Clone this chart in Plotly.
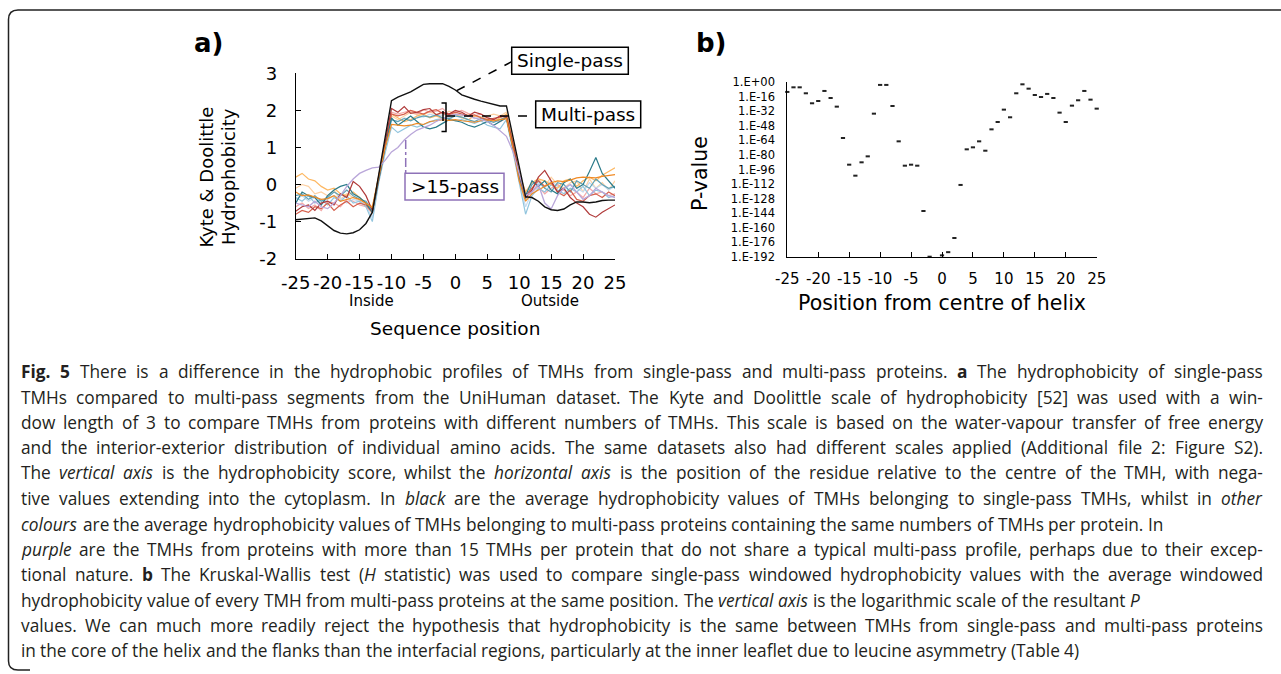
import re
import plotly.graph_objects as go

W, H = 1281, 674

# ---------------- data: panel a ----------------
positions = list(range(-25, 26))

single_pass = [-0.95, -0.93, -0.91, -0.90, -0.98, -1.12, -1.24, -1.31, -1.33, -1.30, -1.22, -1.05, -0.75,
               0.27, 1.27, 2.26,
               2.36, 2.43, 2.50, 2.60, 2.70, 2.72, 2.73, 2.72, 2.65, 2.55, 2.42, 2.35, 2.30, 2.25, 2.20, 2.15, 2.12, 2.12,
               1.30, 0.50, -0.33,
               -0.35, -0.45, -0.60, -0.68, -0.70, -0.66, -0.55, -0.47, -0.47, -0.49, -0.47, -0.43, -0.42, -0.42]

multi_dark_red = [-0.72, -0.6, -0.55, -0.7, -0.5, -0.45, -0.55, -0.25, -0.35, 0.08, -0.05, -0.3, -0.7,
                  0.2, 1.1, 2.05,
                  1.95, 2.1, 1.92, 1.95, 2.02, 2.05, 1.88, 1.95, 1.9, 2.0, 1.95, 1.85, 1.95, 1.9, 1.8, 1.75, 1.85, 1.82,
                  1.1, 0.3, -0.35,
                  -0.15, 0.2, 0.38, 0.1, -0.2, -0.1, -0.35, -0.5, -0.6, -0.8, -0.88, -0.75, -0.65, -0.55]
multi_dark_teal = [-0.5, -0.2, -0.3, -0.35, -0.55, -0.3, -0.15, -0.05, 0.0, -0.25, -0.35, -0.5, -0.75,
                   0.15, 1.0, 1.8,
                   1.6, 1.72, 1.85, 1.7, 1.55, 1.5, 1.55, 1.65, 1.75, 1.72, 1.68, 1.6, 1.55, 1.62, 1.7, 1.6, 1.7, 1.8,
                   1.0, 0.2, -0.3,
                   0.1, -0.05, 0.1, -0.15, -0.25, 0.05, 0.15, -0.1, 0.0, 0.35, 0.73, 0.3, 0.1, -0.1]
multi_orange = [-0.2, -0.3, -0.28, -0.35, -0.4, -0.38, -0.3, -0.45, -0.4, -0.35, -0.4, -0.5, -0.62,
                0.2, 1.0, 1.62,
                1.6, 1.58, 1.6, 1.65, 1.62, 1.7, 1.72, 1.75, 1.73, 1.75, 1.72, 1.7, 1.68, 1.72, 1.74, 1.72, 1.75, 1.78,
                1.0, 0.1, -0.45,
                -0.25, -0.15, -0.05, 0.05, 0.1, 0.08, 0.12, 0.18, 0.2, 0.2, 0.18, 0.22, 0.25, 0.27]
multi_light_orange = [0.2, 0.3, 0.15, 0.1, -0.05, -0.15, -0.1, -0.25, -0.3, -0.2, -0.35, -0.5, -0.6,
                      0.3, 1.1, 1.9,
                      1.8, 1.7, 1.75, 1.85, 1.9, 1.8, 1.85, 1.78, 1.85, 1.9, 1.8, 1.75, 1.85, 1.82, 1.75, 1.7, 1.8, 1.9,
                      1.2, 0.3, -0.2,
                      0.05, 0.15, 0.1, 0.0, -0.1, 0.1, 0.15, -0.05, 0.1, 0.2, 0.1, 0.25, 0.35, 0.45]
multi_peach = [-0.1, 0.0, -0.05, -0.25, -0.2, -0.3, -0.15, -0.4, -0.25, -0.35, -0.45, -0.55, -0.8,
               0.15, 1.05, 1.85,
               1.75, 1.85, 1.95, 1.88, 1.9, 1.95, 1.9, 1.85, 1.98, 1.92, 1.85, 1.9, 1.86, 1.8, 1.85, 1.9, 1.85, 1.95,
               1.15, 0.25, -0.35,
               -0.1, 0.15, -0.05, 0.2, 0.0, -0.1, 0.05, 0.1, -0.2, 0.15, -0.1, 0.05, -0.15, 0.1]
multi_pink = [-0.6, -0.5, -0.65, -0.55, -0.7, -0.45, -0.5, -0.6, -0.4, -0.45, -0.55, -0.6, -0.75,
              0.2, 1.1, 1.95,
              1.9, 1.95, 2.0, 1.9, 2.02, 1.95, 1.98, 2.05, 1.9, 1.95, 2.0, 1.92, 1.85, 1.9, 1.8, 1.75, 1.7, 1.8,
              1.1, 0.2, -0.35,
              -0.2, -0.05, -0.25, -0.1, 0.0, -0.15, -0.3, -0.2, -0.35, -0.1, -0.25, -0.2, -0.3, -0.25]
multi_light_blue = [-0.35, -0.45, -0.3, -0.5, -0.4, -0.55, -0.35, -0.45, -0.3, -0.5, -0.45, -0.6, -1.0,
                    0.05, 0.85, 1.55,
                    1.4, 1.5, 1.6, 1.55, 1.62, 1.7, 1.75, 1.78, 1.8, 1.72, 1.75, 1.7, 1.65, 1.72, 1.6, 1.55, 1.5, 1.75,
                    0.9, 0.0, -0.8,
                    -0.3, -0.1, -0.2, 0.0, -0.15, -0.25, -0.1, -0.2, -0.05, -0.3, -0.15, -0.2, -0.35, -0.3]
multi_pale_blue = [-0.4, -0.3, -0.45, -0.35, -0.5, -0.4, -0.3, -0.35, -0.5, -0.4, -0.45, -0.55, -0.9,
                   0.1, 0.95, 1.75,
                   1.7, 1.8, 1.75, 1.85, 1.82, 1.9, 1.85, 1.88, 1.9, 1.85, 1.8, 1.85, 1.78, 1.82, 1.8, 1.75, 1.7, 1.8,
                   1.0, 0.1, -0.6,
                   -0.2, 0.05, -0.1, 0.1, -0.05, -0.15, 0.0, -0.1, -0.2, 0.05, -0.1, 0.0, -0.15, -0.05]
multi_mid_teal = [-0.3, -0.25, -0.4, -0.3, -0.45, -0.35, -0.2, -0.3, -0.15, -0.3, -0.4, -0.45, -0.7,
                  0.2, 1.05, 1.75,
                  1.7, 1.78, 1.72, 1.8, 1.85, 1.82, 1.88, 1.8, 1.78, 1.85, 1.82, 1.75, 1.7, 1.78, 1.72, 1.68, 1.75, 1.82,
                  1.05, 0.15, -0.4,
                  0.0, 0.1, -0.1, -0.2, 0.05, 0.0, -0.2, 0.1, 0.0, -0.1, 0.15, 0.0, -0.1, -0.05]
multi_red = [-0.8, -0.7, -0.75, -0.6, -0.65, -0.5, -0.7, -0.55, -0.45, -0.6, -0.5, -0.55, -0.75,
             0.15, 1.05, 1.9,
             1.85, 1.9, 2.0, 1.95, 1.9, 1.98, 2.02, 1.92, 1.88, 1.95, 1.9, 1.85, 1.88, 1.8, 1.75, 1.78, 1.82, 1.85,
             1.1, 0.2, -0.3,
             -0.1, 0.1, -0.05, 0.05, -0.2, -0.3, -0.15, -0.4, -0.45, -0.3, -0.25, -0.35, -0.2, -0.3]
over15_pass = [-0.5, -0.55, -0.6, -0.45, -0.6, -0.65, -0.5, -0.3, -0.05, 0.15, 0.3, 0.38, 0.45,
               0.47, 0.65, 0.88,
               1.0, 1.2, 1.35, 1.47, 1.54, 1.6, 1.7, 1.78, 1.85, 1.9, 1.88, 1.85, 1.8, 1.75, 1.7, 1.6, 1.45, 1.3,
               0.9, 0.3, -0.3,
               -0.2, 0.0, -0.5, -0.66, -0.3, -0.1, 0.0, -0.2, -0.4, -0.3, -0.1, -0.2, -0.3, -0.35]

multi_series = [
    ("#fdd0a2", multi_peach),
    ("#c6dbef", multi_pale_blue),
    ("#f4a9a8", multi_pink),
    ("#92c5de", multi_light_blue),
    ("#fdb863", multi_light_orange),
    ("#5fa2b5", multi_mid_teal),
    ("#d6604d", multi_red),
    ("#2b7b8a", multi_dark_teal),
    ("#b03a3a", multi_dark_red),
    ("#f08a24", multi_orange),
]

# ---------------- data: panel b ----------------
p_values = [2.5e-11, 3e-6, 3e-6, 8e-13, 8e-24, 2.5e-21, 3e-10, 5e-18, 1.6e-27, 5e-62,
            2e-91, 1.6e-103, 8e-89, 3e-82, 3e-35, 1.3e-3, 1.3e-3, 8e-27, 1e-65, 1.6e-92,
            2e-91, 1.6e-92, 2e-142, 1e-192, 1e-193, 3e-191, 1e-187, 4e-172, 1e-113, 1.6e-74,
            2.5e-72, 1e-65, 5e-76, 1.6e-52, 2e-44, 8e-31, 3e-39, 8e-13, 6e-3, 1e-7,
            1e-14, 6e-17, 1.6e-13, 5e-18, 4e-34, 2e-44, 2e-26, 1.6e-20, 3e-10, 8e-20, 1e-29]
p_tick_vals = [1e0, 1e-16, 1e-32, 1e-48, 1e-64, 1e-80, 1e-96, 1e-112, 1e-128, 1e-144, 1e-160, 1e-176, 1e-192]
p_tick_text = ["1.E+00", "1.E-16", "1.E-32", "1.E-48", "1.E-64", "1.E-80", "1.E-96", "1.E-112",
               "1.E-128", "1.E-144", "1.E-160", "1.E-176", "1.E-192"]
x_ticks = [-25, -20, -15, -10, -5, 0, 5, 10, 15, 20, 25]
x_tick_text = ["-25", "-20", "-15", "-10", "-5", "0", "5", "10", "15", "20", "25"]
y_ticks_a = [-2, -1, 0, 1, 2, 3]
y_tick_text_a = ["-2", "-1", "0", "1", "2", "3"]

# caption lines: (text, justified)
caption_lines = [
    ("<b>Fig. 5</b> There is a difference in the hydrophobic profiles of TMHs from single-pass and multi-pass proteins. <b>a</b> The hydrophobicity of single-pass", True),
    ("TMHs compared to multi-pass segments from the UniHuman dataset. The Kyte and Doolittle scale of hydrophobicity [52] was used with a win-", True),
    ("dow length of 3 to compare TMHs from proteins with different numbers of TMHs. This scale is based on the water-vapour transfer of free energy", True),
    ("and the interior-exterior distribution of individual amino acids. The same datasets also had different scales applied (Additional file 2: Figure S2).", True),
    ("The <i>vertical axis</i> is the hydrophobicity score, whilst the <i>horizontal axis</i> is the position of the residue relative to the centre of the TMH, with nega-", True),
    ("tive values extending into the cytoplasm. In <i>black</i> are the average hydrophobicity values of TMHs belonging to single-pass TMHs, whilst in <i>other</i>", True),
    ("<i>colours</i> are the average hydrophobicity values of TMHs belonging to multi-pass proteins containing the same numbers of TMHs per protein. In", False),
    ("<i>purple</i> are the TMHs from proteins with more than 15 TMHs per protein that do not share a typical multi-pass profile, perhaps due to their excep-", True),
    ("tional nature. <b>b</b> The Kruskal-Wallis test (<i>H</i> statistic) was used to compare single-pass windowed hydrophobicity values with the average windowed", True),
    ("hydrophobicity value of every TMH from multi-pass proteins at the same position. The <i>vertical axis</i> is the logarithmic scale of the resultant <i>P</i>", False),
    ("values. We can much more readily reject the hypothesis that hydrophobicity is the same between TMHs from single-pass and multi-pass proteins", True),
    ("in the core of the helix and the flanks than the interfacial regions, particularly at the inner leaflet due to leucine asymmetry (Table 4)", False),
]

# ---------------- helpers (pixel -> paper) ----------------
def PX(x):
    return x / W


def PY(y):
    return 1 - y / H


FONT = "DejaVu Sans"
CAP_FONT = "Open Sans"
CAP_SIZE = 17.3
CAP_LEFT, CAP_RIGHT = 20, 1262

# approximate Open Sans advance widths (units per em = 2048)
_OS_W = {' ': 532, '!': 565, '"': 821, '&': 1495, "'": 453, '(': 606, ')': 606, ',': 502, '-': 659,
         '.': 545, '/': 752, ':': 545, ';': 545, '[': 684, ']': 684,
         'A': 1296, 'B': 1327, 'C': 1292, 'D': 1493, 'E': 1139, 'F': 1057, 'G': 1491, 'H': 1511, 'I': 571,
         'J': 547, 'K': 1257, 'L': 1063, 'M': 1849, 'N': 1544, 'O': 1595, 'P': 1233, 'Q': 1595, 'R': 1266,
         'S': 1124, 'T': 1133, 'U': 1491, 'V': 1219, 'W': 1896, 'X': 1182, 'Y': 1147, 'Z': 1169,
         'a': 1139, 'b': 1255, 'c': 975, 'd': 1255, 'e': 1149, 'f': 694, 'g': 1122, 'h': 1257, 'i': 518,
         'j': 518, 'k': 1075, 'l': 518, 'm': 1905, 'n': 1257, 'o': 1237, 'p': 1255, 'q': 1255, 'r': 836,
         's': 977, 't': 723, 'u': 1257, 'v': 1026, 'w': 1593, 'x': 1073, 'y': 1028, 'z': 977}


def seg_width(s, bold, italic, size):
    units = sum(_OS_W.get(ch, 1171 if ch.isdigit() else 1100) for ch in s)
    f = 1.0
    if bold:
        f *= 1.07
    if italic:
        f *= 0.96
    return units / 2048 * size * f


def tokenize(line, size):
    """split a line into words; each word -> (markup, width)"""
    words = []
    cur_markup, cur_w, in_word = "", 0.0, False
    bold = italic = False
    for part in re.split(r"(</?[bi]>)", line):
        if part in ("<b>", "</b>", "<i>", "</i>"):
            bold = part == "<b>" if part in ("<b>", "</b>") else bold
            italic = part == "<i>" if part in ("<i>", "</i>") else italic
            continue
        pieces = part.split(" ")
        for k, piece in enumerate(pieces):
            if k > 0 and in_word:
                words.append((cur_markup, cur_w))
                cur_markup, cur_w, in_word = "", 0.0, False
            if piece:
                m = piece
                if italic:
                    m = f"<i>{m}</i>"
                if bold:
                    m = f"<b>{m}</b>"
                cur_markup += m
                cur_w += seg_width(piece, bold, italic, size)
                in_word = True
    if in_word:
        words.append((cur_markup, cur_w))
    return words


fig = go.Figure()

for color, vals in multi_series:
    fig.add_trace(go.Scatter(x=positions, y=vals, mode="lines", line=dict(color=color, width=1.2),
                             xaxis="x", yaxis="y", showlegend=False, hoverinfo="skip"))
fig.add_trace(go.Scatter(x=positions, y=over15_pass, mode="lines", line=dict(color="#b9a6d9", width=1.3),
                         xaxis="x", yaxis="y", showlegend=False, hoverinfo="skip"))
fig.add_trace(go.Scatter(x=positions, y=single_pass, mode="lines", line=dict(color="#111111", width=1.4),
                         xaxis="x", yaxis="y", showlegend=False, hoverinfo="skip"))

fig.add_trace(go.Scatter(x=positions, y=p_values, mode="markers",
                         marker=dict(symbol="line-ew", size=3, color="#222",
                                     line=dict(color="#222", width=2)),
                         cliponaxis=False, xaxis="x2", yaxis="y2", showlegend=False, hoverinfo="skip"))

axis_common = dict(showgrid=False, zeroline=False, showline=True, linecolor="black", linewidth=1,
                   tickcolor="black", tickwidth=1, automargin=False, tickangle=0)

fig.update_layout(
    width=W, height=H, autosize=False,
    margin=dict(l=0, r=0, t=0, b=0, pad=0),
    paper_bgcolor="white", plot_bgcolor="rgba(0,0,0,0)",
    xaxis=dict(domain=[PX(295.7), PX(615)], range=[-25, 25], tickvals=x_ticks, ticktext=x_tick_text,
               ticks="inside", ticklen=5,
               tickfont=dict(family=FONT, size=18, color="black"), ticklabelstandoff=8,
               anchor="y", **axis_common),
    yaxis=dict(domain=[PY(258.7), PY(73.3)], range=[-2, 3], tickvals=y_ticks_a, ticktext=y_tick_text_a,
               ticks="inside", ticklen=5,
               tickfont=dict(family=FONT, size=18, color="black"), ticklabelstandoff=14,
               anchor="x", **axis_common),
    xaxis2=dict(domain=[PX(787.3), PX(1096.7)], range=[-25, 25], tickvals=x_ticks, ticktext=x_tick_text,
                ticks="inside", ticklen=5,
                tickfont=dict(family=FONT, size=15, color="black"), ticklabelstandoff=8,
                anchor="y2", **axis_common),
    yaxis2=dict(domain=[PY(256.7), PY(82.3)], type="log", range=[-192, 0],
                tickvals=p_tick_vals, ticktext=p_tick_text, ticks="",
                tickfont=dict(family=FONT, size=11.5, color="black"), ticklabelstandoff=9,
                anchor="x2", **axis_common),
)

ann = []


def text(x, y, s, size, angle=0, xanchor="center", yanchor="middle", color="black", family=FONT):
    ann.append(dict(x=PX(x), y=PY(y), xref="paper", yref="paper", text=s, showarrow=False,
                    textangle=angle, xanchor=xanchor, yanchor=yanchor, borderpad=0,
                    font=dict(family=family, size=size, color=color)))


text(208, 43, "<b>a)</b>", 26)
text(712, 43, "<b>b)</b>", 26)
text(206.7, 176.7, "Kyte &amp; Doolittle", 18, angle=-90)
text(228.3, 176.7, "Hydrophobicity", 18, angle=-90)
text(371.7, 301, "Inside", 15)
text(550, 301, "Outside", 15)
text(455, 328.3, "Sequence position", 18.5)
text(700.7, 173.3, "P-value", 20.5, angle=-90)
text(941.7, 303.3, "Position from centre of helix", 20.5)

text(570, 61, "Single-pass", 18.5)
text(588.2, 114.3, "Multi-pass", 18.5)
text(454.5, 186.7, "&gt;15-pass", 18.5)

# caption, word by word so justified lines reach the right margin
cap_y = [371, 397, 422, 447, 472, 498, 524, 549, 574, 600, 625, 650]
space_w = _OS_W[' '] / 2048 * CAP_SIZE
for (line, justified), yy in zip(caption_lines, cap_y):
    words = tokenize(line, CAP_SIZE)
    total = sum(w for _, w in words)
    if justified and len(words) > 1:
        gap = (CAP_RIGHT - CAP_LEFT - total) / (len(words) - 1)
    else:
        gap = space_w
    x = CAP_LEFT
    for markup, wd in words:
        text(x, yy, markup, CAP_SIZE, xanchor="left", color="#231f20", family=CAP_FONT)
        x += wd + gap

fig.update_layout(annotations=ann)

shapes = []


def rect(x0, y0, x1, y1, color="black", width=1.5):
    shapes.append(dict(type="rect", xref="paper", yref="paper", x0=PX(x0), y0=PY(y1), x1=PX(x1), y1=PY(y0),
                       line=dict(color=color, width=width), fillcolor="rgba(255,255,255,0)", layer="above"))


def seg(x0, y0, x1, y1, color="black", width=1.5, dash="dash"):
    shapes.append(dict(type="line", xref="paper", yref="paper", x0=PX(x0), y0=PY(y0), x1=PX(x1), y1=PY(y1),
                       line=dict(color=color, width=width, dash=dash), layer="above"))


rect(511.7, 47.3, 628.3, 74.3)
rect(535.7, 101, 640.7, 127.7)
rect(405, 173.3, 504, 200, color="#8e72b8")
seg(456.7, 90.7, 511.7, 61.7)
seg(446, 116, 535.7, 116)
seg(405.7, 140, 405.7, 173.3, color="#8e72b8", dash="dashdot")
# bracket for multi-pass
shapes.append(dict(type="path", xref="paper", yref="paper",
                   path=f"M {PX(441.5)},{PY(103)} L {PX(446)},{PY(103)} L {PX(446)},{PY(131.5)} L {PX(441.5)},{PY(131.5)}",
                   line=dict(color="black", width=1.5), layer="above"))
seg(443, 111, 443, 121, dash="solid", width=1.5)
# page border (rounded corners)
shapes.append(dict(type="path", xref="paper", yref="paper",
                   path=(f"M {PX(1281)},{PY(10)} L {PX(18)},{PY(10)} Q {PX(8.5)},{PY(10)} {PX(8.5)},{PY(19.5)} "
                         f"L {PX(8.5)},{PY(661)} Q {PX(8.5)},{PY(670)} {PX(18)},{PY(670)} L {PX(30)},{PY(670)}"),
                   line=dict(color="#222", width=1.5)))

fig.update_layout(shapes=shapes)

fig.write_html("out.html")
